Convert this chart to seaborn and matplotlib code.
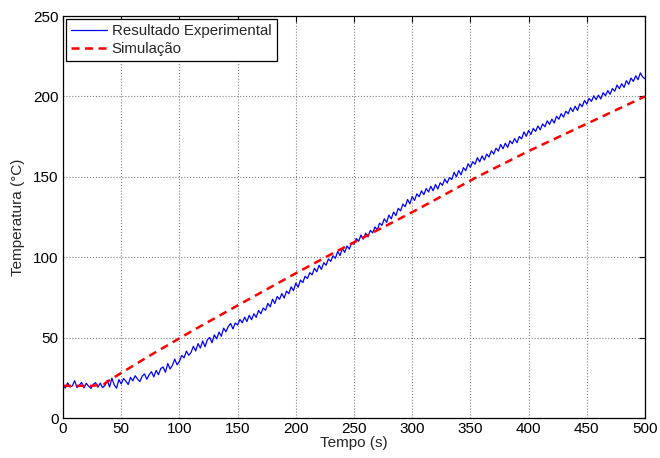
import matplotlib
matplotlib.use("Agg")
import matplotlib.pyplot as plt
import seaborn as sns
import pandas as pd

# Experimental data (every 2 s)
exp_time = list(range(0, 502, 2))
exp_temp = [
    20.8, 18.6, 21.9, 19.3, 19.9,
    23.2, 18.9, 20.4, 22.1, 18.7,
    21.6, 19.8, 18.4, 20.9, 22.0,
    19.1, 21.7, 18.9, 20.2, 23.4,
    19.3, 24.8, 20.6, 18.5, 23.9,
    21.2, 24.6, 22.9, 20.8, 25.3,
    23.1, 26.3, 24.2, 22.7, 25.9,
    27.4, 24.1, 26.9, 28.8, 25.6,
    29.6, 26.9, 30.8, 31.7, 28.4,
    33.9, 30.5, 32.8, 36.6, 33.1,
    35.2, 38.9, 37.4, 41.6, 39.0,
    40.8, 44.6, 41.7, 46.3, 43.5,
    47.9, 44.3, 48.6, 50.1, 46.8,
    51.7, 49.2, 53.4, 50.8, 55.9,
    53.6, 56.9, 58.8, 55.4, 59.1,
    57.8, 61.3, 59.2, 62.7, 60.0,
    63.9, 61.1, 64.8, 62.6, 66.9,
    64.8, 68.4, 67.0, 71.3, 69.1,
    73.9, 71.2, 75.6, 73.8, 77.4,
    74.6, 78.9, 77.3, 81.6, 79.2,
    83.9, 81.3, 85.8, 84.2, 88.2,
    86.7, 90.4, 89.0, 93.1, 90.9,
    95.0, 92.4, 96.6, 95.0, 98.9,
    97.4, 100.9, 99.3, 103.6, 101.0,
    105.4, 103.0, 107.0, 105.0, 109.0,
    108.1, 111.6, 109.9, 113.8, 111.2,
    114.9, 112.6, 116.7, 115.1, 118.8,
    116.9, 121.2, 119.8, 123.9, 121.6,
    126.2, 123.8, 128.1, 125.9, 130.4,
    128.8, 133.0, 131.4, 135.9, 133.2,
    137.8, 135.3, 139.4, 137.6, 141.3,
    138.9, 142.7, 140.6, 144.1, 141.3,
    145.2, 142.4, 146.3, 144.7, 148.6,
    146.1, 149.6, 148.3, 152.8, 150.0,
    153.9, 151.2, 155.7, 153.8, 158.1,
    155.9, 159.4, 157.8, 161.9, 159.3,
    163.0, 160.4, 164.1, 162.3, 166.2,
    164.1, 167.8, 166.0, 170.1, 167.4,
    170.9, 168.3, 172.4, 170.6, 173.8,
    171.2, 175.1, 173.6, 177.9, 175.2,
    178.8, 176.3, 180.1, 178.2, 181.6,
    179.2, 182.9, 181.1, 184.8, 182.6,
    185.9, 183.4, 187.6, 185.8, 189.3,
    187.1, 190.8, 189.2, 193.0, 190.6,
    193.9, 191.3, 195.4, 193.6, 197.5,
    195.2, 198.8, 196.9, 200.4, 198.0,
    200.8, 198.4, 202.3, 200.5, 203.6,
    201.3, 204.9, 203.2, 207.1, 204.8,
    207.9, 205.6, 209.8, 207.5, 211.4,
    209.3, 212.8, 210.4, 214.6, 212.1,
    210.9,
]

# Simulation
sim_time = [0, 25, 35, 40, 50, 75, 113, 150, 200, 232, 300, 356, 400, 450, 500]
sim_temp = [20, 20, 21, 23.5, 28, 39, 55, 70, 90, 102.5, 128, 150, 166, 183, 200]

x_ticks = [0, 50, 100, 150, 200, 250, 300, 350, 400, 450, 500]
y_ticks = [0, 50, 100, 150, 200, 250]

sns.set_style("white")
plt.rcParams['font.family'] = ['Liberation Sans', 'DejaVu Sans']

fig = plt.figure(figsize=(6.6, 4.58), dpi=100)
ax = fig.add_axes([63/660, 40/458, 582/660, 402/458])

df_exp = pd.DataFrame({"t": exp_time, "T": exp_temp})
df_sim = pd.DataFrame({"t": sim_time, "T": sim_temp})

sns.lineplot(data=df_exp, x="t", y="T", ax=ax, color="#0000ff", linewidth=0.9,
             label="Resultado Experimental")
sns.lineplot(data=df_sim, x="t", y="T", ax=ax, color="#ff0000", linewidth=1.8,
             linestyle=(0, (3.2, 2.2)), label="Simulação")

ax.set_xlim(0, 500)
ax.set_ylim(0, 250)
ax.set_xticks(x_ticks)
ax.set_yticks(y_ticks)
ax.tick_params(direction='in', top=True, right=True, length=4, width=0.8,
               labelsize=11, pad=3, colors='black')
ax.grid(True, linestyle=':', color='#808080', linewidth=0.8)
for s in ax.spines.values():
    s.set_color('black')
    s.set_linewidth(0.9)
ax.set_xlabel("Tempo (s)", fontsize=11, labelpad=0)
ax.set_ylabel("Temperatura (°C)", fontsize=11, labelpad=6)

leg = ax.legend(loc='upper left', fontsize=10.8, frameon=True, fancybox=False,
                edgecolor='black', framealpha=1, borderpad=0.35, labelspacing=0.25,
                handlelength=2.4, handletextpad=0.3, borderaxespad=0.2)
leg.get_frame().set_linewidth(0.9)

fig.savefig("out.png", dpi=100, facecolor='white')
